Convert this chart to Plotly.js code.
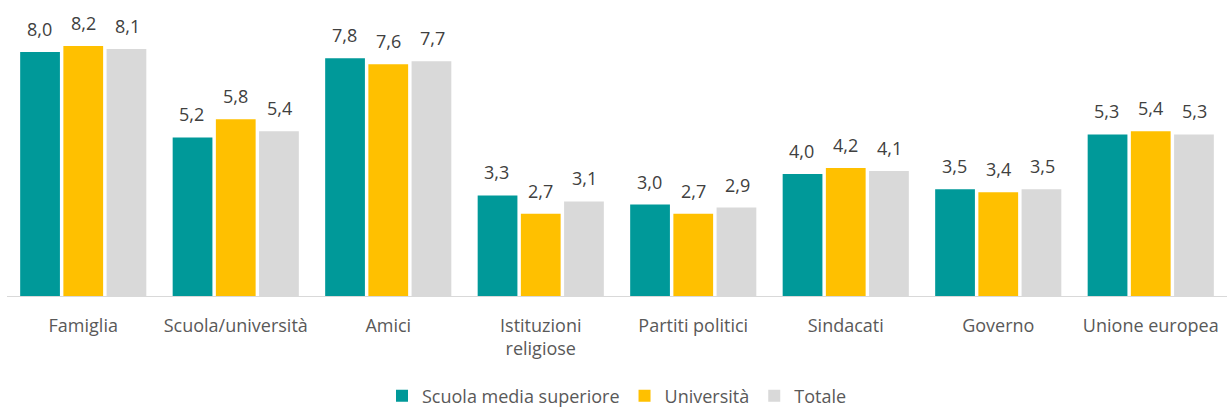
<!DOCTYPE html>
<html><head><meta charset="utf-8">
<script src="https://cdn.plot.ly/plotly-3.0.1.min.js"></script>
<style>html,body{margin:0;padding:0;background:#fff}#c{width:1227px;height:409px}</style>
</head><body><div id="c"></div>
<script>
const categories = ["Famiglia","Scuola/università","Amici","Istituzioni<br>religiose","Partiti politici","Sindacati","Governo","Unione europea"];
const scuolaMedia = [8.0,5.2,7.8,3.3,3.0,4.0,3.5,5.3];
const universita = [8.2,5.8,7.6,2.7,2.7,4.2,3.4,5.4];
const totale = [8.1,5.4,7.7,3.1,2.9,4.1,3.5,5.3];
const seriesNames = ["Scuola media superiore","Università","Totale"];
const colors = ["#009999","#FFC000","#D9D9D9"];
const font = "Open Sans, Liberation Sans, sans-serif";
const vals=[scuolaMedia,universita,totale];
const traces = vals.map((v,i)=>({
  type:'bar', x:categories, y:v, name:seriesNames[i],
  marker:{color:colors[i]}, hoverinfo:'none'
}));
const slotPx = 44;
const annotations = [];
vals.forEach((v,i)=>{
  v.forEach((val,j)=>{
    annotations.push({x:categories[j], y:val, xref:'x', yref:'y', text:val.toFixed(1).replace('.',','),
      showarrow:false, yanchor:'bottom', xanchor:'center', xshift:(i-1)*slotPx, yshift:9,
      font:{family:font,size:18,color:'#404040'}});
  });
});
Plotly.newPlot('c',traces,{
  width:1227,height:409,
  margin:{l:7,r:0,t:10,b:113,autoexpand:false},
  barmode:'group', bargap:0.15, bargroupgap:0.08,
  paper_bgcolor:'#fff', plot_bgcolor:'#fff',
  font:{family:font,size:18,color:'#595959'},
  xaxis:{automargin:false,showline:true,linecolor:'#D9D9D9',linewidth:1,ticks:'outside',ticklen:13,tickcolor:'rgba(0,0,0,0)',tickfont:{size:18,color:'#595959'}},
  yaxis:{range:[0,9.38],visible:false,showgrid:false,zeroline:false},
  annotations:annotations,
  showlegend:true,
  legend:{orientation:'h',x:0.5,xanchor:'center',y:-0.285,yanchor:'top',font:{size:18,color:'#595959'},itemwidth:30,tracegroupgap:0}
},{displayModeBar:false});
</script></body></html>
